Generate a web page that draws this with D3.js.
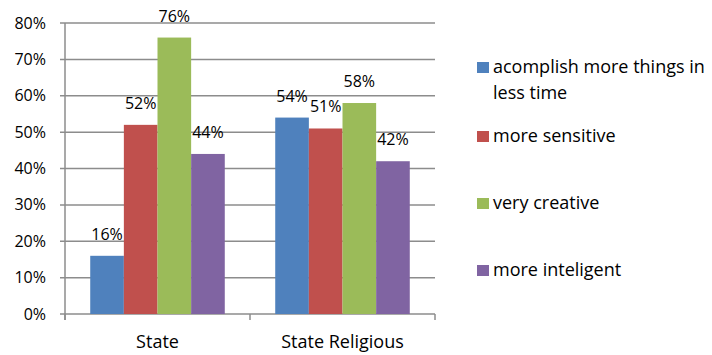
<!DOCTYPE html>
<html><head><meta charset="utf-8">
<script src="https://cdn.jsdelivr.net/npm/d3@7"></script>
<style>body{margin:0;background:#fff;}svg{display:block;}</style>
</head><body>
<script>
const categories = ["State", "State Religious"];
const seriesNames = ["acomplish more things in less time", "more sensitive", "very creative", "more inteligent"];
const seriesColors = ["#4F81BD", "#C0504D", "#9BBB59", "#8064A2"];
const values = [
  [16, 54],
  [52, 51],
  [76, 58],
  [44, 42]
];
const yTicks = [0, 10, 20, 30, 40, 50, 60, 70, 80];

const W = 712, H = 355;
const font = "'Open Sans', sans-serif";
const fsNum = 16;
const fsText = 18;
const svg = d3.select("body").append("svg").attr("width", W).attr("height", H);

const x0 = d3.scaleBand().domain(categories).range([65, 435]).paddingInner(0).paddingOuter(0);
const x1 = d3.scaleBand().domain(d3.range(seriesNames.length)).range([0, x0.bandwidth()]).paddingInner(0).paddingOuter(0.75);
const y = d3.scaleLinear().domain([0, 80]).range([314, 23]);

// gridlines
svg.append("g").selectAll("line").data(yTicks).join("line")
  .attr("x1", 60).attr("x2", 435)
  .attr("y1", d => y(d)).attr("y2", d => y(d))
  .attr("stroke", "#8c8c8c").attr("stroke-width", 1.5);

// y axis line
svg.append("line").attr("x1", 65).attr("x2", 65).attr("y1", y(80)).attr("y2", 320)
  .attr("stroke", "#8c8c8c").attr("stroke-width", 1.5);

// x ticks
const xTickPos = [65, ...categories.map(c => x0(c) + x0.bandwidth())];
svg.append("g").selectAll("line").data(xTickPos).join("line")
  .attr("x1", d => d).attr("x2", d => d).attr("y1", y(0)).attr("y2", 320)
  .attr("stroke", "#8c8c8c").attr("stroke-width", 1.5);

// y labels
svg.append("g").selectAll("text").data(yTicks).join("text")
  .attr("x", 46).attr("y", d => y(d)).attr("dy", "0.35em")
  .attr("text-anchor", "end").attr("font-family", font).attr("font-size", fsNum).attr("fill", "#000")
  .text(d => d + "%");

// bars
const groups = svg.append("g").selectAll("g").data(categories).join("g")
  .attr("transform", c => `translate(${x0(c)},0)`);
groups.each(function(c, ci) {
  const g = d3.select(this);
  seriesNames.forEach((s, si) => {
    const v = values[si][ci];
    g.append("rect")
      .attr("x", x1(si)).attr("width", x1.bandwidth())
      .attr("y", y(v)).attr("height", y(0) - y(v))
      .attr("fill", seriesColors[si]);
  });
  seriesNames.forEach((s, si) => {
    const v = values[si][ci];
    g.append("text")
      .attr("x", x1(si) + x1.bandwidth() / 2).attr("y", y(v) - 16)
      .attr("text-anchor", "middle").attr("font-family", font).attr("font-size", fsNum).attr("fill", "#000")
      .text(v + "%");
  });
});

// category labels
svg.append("g").selectAll("text").data(categories).join("text")
  .attr("x", c => x0(c) + x0.bandwidth() / 2).attr("y", 348)
  .attr("text-anchor", "middle").attr("font-family", font).attr("font-size", fsText).attr("fill", "#000")
  .text(c => c);

// legend
const legendRows = [
  { lines: ["acomplish more things in", "less time"], y: 73 },
  { lines: ["more sensitive"], y: 142 },
  { lines: ["very creative"], y: 209 },
  { lines: ["more inteligent"], y: 276 }
];
const lg = svg.append("g");
legendRows.forEach((r, i) => {
  lg.append("rect").attr("x", 477).attr("y", r.y - 11).attr("width", 12).attr("height", 11)
    .attr("fill", seriesColors[i]);
  const t = lg.append("text").attr("font-family", font).attr("font-size", fsText).attr("fill", "#000");
  r.lines.forEach((ln, li) => {
    t.append("tspan").attr("x", 493).attr("y", r.y + li * 26).text(ln);
  });
});
</script>
</body></html>
